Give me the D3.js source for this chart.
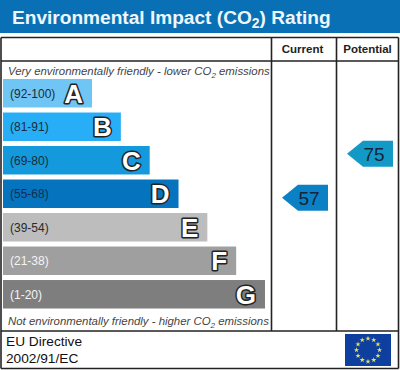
<!DOCTYPE html>
<html>
<head>
<meta charset="utf-8">
<script src="https://cdn.jsdelivr.net/npm/d3@7"></script>
<style>
  html, body { margin: 0; padding: 0; background: #fff; }
  svg { display: block; font-family: "Liberation Sans", Arial, sans-serif; }
</style>
</head>
<body>
<div id="chart"></div>
<script>
// Rating bands, best to worst
const letters = ["A", "B", "C", "D", "E", "F", "G"];
const ranges = ["(92-100)", "(81-91)", "(69-80)", "(55-68)", "(39-54)", "(21-38)", "(1-20)"];
const barSteps = [1, 2, 3, 4, 5, 6, 7];
const barColors = ["#6fc5f4", "#27aef6", "#1499dc", "#0673bf", "#bdbdbd", "#9f9f9f", "#7e7e7e"];
const rangeColors = ["#1d2a38", "#1d2a38", "#1d2a38", "#12304f", "#2a2a2a", "#f4f4f4", "#f4f4f4"];

const columns = ["Current", "Potential"];
const scores = [57, 75];
const scoreColors = ["#0b80c4", "#1399c6"];

const width = 400, height = 370;

const svg = d3.select("#chart").append("svg")
    .attr("width", width)
    .attr("height", height);

// Scales
const xBar = d3.scaleLinear().domain([0, 7]).range([63.2, 265]);
const yBar = d3.scaleBand().domain(letters).range([79, 308.5]).paddingInner(0.15);
const xColumn = d3.scaleBand().domain(columns).range([271.5, 401.5]);
const yScore = d3.scaleLinear().domain([0, 100]).range([337, 92.5]);

// Header strip
svg.append("rect")
    .attr("width", width).attr("height", 33)
    .attr("fill", "#0a70b6");

const title = svg.append("text")
    .attr("x", 12).attr("y", 24)
    .attr("font-size", 19.1)
    .attr("font-weight", "bold")
    .attr("fill", "#eef7fc");
title.append("tspan").text("Environmental Impact (CO");
title.append("tspan").attr("dy", 4).attr("font-size", 14).text("2");
title.append("tspan").attr("dy", -4).text(") Rating");

// Table lines
const lines = [
    [1, 37.5, 398.5, 37.5], [1, 61, 398.5, 61], [1, 331, 398.5, 331], [1, 368.5, 398.5, 368.5],
    [1, 37.5, 1, 368.5], [398.5, 37.5, 398.5, 368.5],
    [271.5, 37.5, 271.5, 331], [336.5, 37.5, 336.5, 331]
];
svg.selectAll("line.grid")
    .data(lines)
    .enter()
    .append("line")
    .attr("class", "grid")
    .attr("x1", d => d[0]).attr("y1", d => d[1])
    .attr("x2", d => d[2]).attr("y2", d => d[3])
    .attr("stroke", "#222")
    .attr("stroke-width", 1.6);

// Column headings
svg.selectAll("text.column")
    .data(columns)
    .enter()
    .append("text")
    .attr("class", "column")
    .attr("x", d => xColumn(d) + xColumn.bandwidth() / 2 - 1.5)
    .attr("y", 53)
    .attr("text-anchor", "middle")
    .attr("font-size", 11.5)
    .attr("font-weight", "bold")
    .attr("fill", "#222")
    .text(d => d);

// Italic notes above and below the bars
function note(y, before) {
    const t = svg.append("text")
        .attr("x", 8).attr("y", y)
        .attr("font-size", 11.4)
        .attr("font-style", "italic")
        .attr("fill", "#444");
    t.append("tspan").text(before + " CO");
    t.append("tspan").attr("dy", 3).attr("font-size", 8).text("2");
    t.append("tspan").attr("dy", -3).text(" emissions");
}
note(75, "Very environmentally friendly - lower");
note(325, "Not environmentally friendly - higher");

// Bars
const bars = svg.selectAll("g.band")
    .data(letters)
    .enter()
    .append("g")
    .attr("class", "band");

bars.append("rect")
    .attr("x", 3)
    .attr("y", d => yBar(d))
    .attr("width", (d, i) => xBar(barSteps[i]) - 3)
    .attr("height", yBar.bandwidth())
    .attr("fill", (d, i) => barColors[i]);

bars.append("text")
    .attr("x", 10)
    .attr("y", d => yBar(d) + yBar.bandwidth() / 2 + 4.5)
    .attr("font-size", 12)
    .attr("fill", (d, i) => rangeColors[i])
    .text((d, i) => ranges[i]);

bars.append("text")
    .attr("x", (d, i) => xBar(barSteps[i]) - 9)
    .attr("y", d => yBar(d) + yBar.bandwidth() / 2 + 9.5)
    .attr("text-anchor", "end")
    .attr("font-size", 26)
    .attr("font-weight", "bold")
    .attr("fill", "#fff")
    .attr("stroke", "#222")
    .attr("stroke-width", 3)
    .attr("stroke-linejoin", "round")
    .style("paint-order", "stroke")
    .text(d => d);

// Score arrows
const arrow = d3.line();
const scoreGroups = svg.selectAll("g.score")
    .data(scores)
    .enter()
    .append("g")
    .attr("class", "score")
    .attr("transform", (d, i) => "translate(" + (xColumn(columns[i]) + 56.5) + "," + yScore(d) + ")");

scoreGroups.append("path")
    .attr("d", arrow([[0, -13], [0, 13], [-30, 13], [-46, 0], [-30, -13]]))
    .attr("fill", (d, i) => scoreColors[i]);

scoreGroups.append("text")
    .attr("x", -19)
    .attr("y", 7)
    .attr("text-anchor", "middle")
    .attr("font-size", 19)
    .attr("fill", "#15253a")
    .text(d => d);

// Footer
const footer = ["EU Directive", "2002/91/EC"];
svg.selectAll("text.footer")
    .data(footer)
    .enter()
    .append("text")
    .attr("class", "footer")
    .attr("x", 6)
    .attr("y", (d, i) => 346 + i * 17)
    .attr("font-size", 13.7)
    .attr("fill", "#111")
    .text(d => d);

// EU flag
const flag = svg.append("g").attr("transform", "translate(368,350)");
flag.append("rect")
    .attr("x", -23).attr("y", -16)
    .attr("width", 46).attr("height", 32)
    .attr("fill", "#0f3f9e");
const star = d3.symbol().type(d3.symbolStar).size(9);
flag.selectAll("path")
    .data(d3.range(12))
    .enter()
    .append("path")
    .attr("d", star)
    .attr("fill", "#e4e06a")
    .attr("transform", d => "translate(" + (11.5 * Math.sin(d * Math.PI / 6)) + "," + (-11.5 * Math.cos(d * Math.PI / 6)) + ")");
</script>
</body>
</html>
